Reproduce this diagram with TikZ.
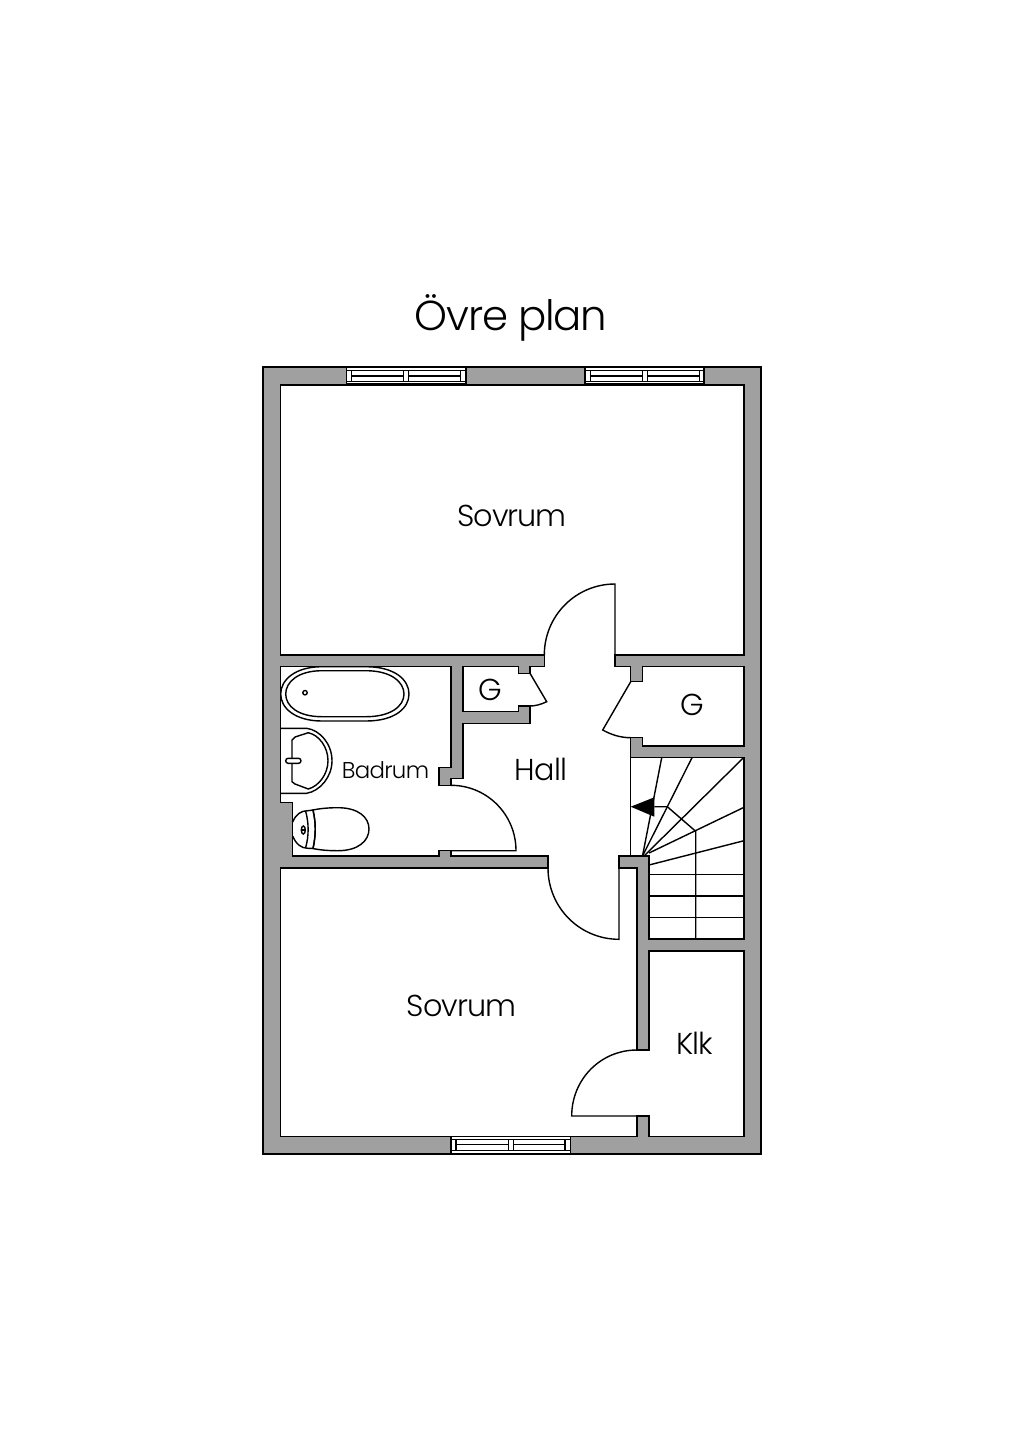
\documentclass[tikz,border=0pt]{standalone}
\usepackage{fontspec}
\setmainfont[LetterSpace=-3]{Poppins Light}
\definecolor{planwall}{HTML}{A0A0A0}
\tikzset{
  planline/.style={black,line width=0.4pt},
  roomlabel/.style={black,font=\fontsize{8.6pt}{11pt}\selectfont,inner sep=0pt},
}

\begin{document}
\begin{tikzpicture}[x=0.01cm,y=-0.01cm]
\useasboundingbox (0,0) rectangle (1024,1448);
\fill[white] (0,0) rectangle (1024,1448);
% walls and free floor
\draw[planline,fill=planwall] (263,367) rectangle (761,1154);
\draw[planline,fill=white] (280.7,385) -- (744,385) -- (744,655) -- (615,655) -- (615,666.7) -- (630.7,666.7) -- (630.7,681.7) -- (642.7,681.7) -- (642.7,666.7) -- (744,666.7) -- (744,746) -- (642.7,746) -- (642.7,737.7) -- (630.7,737.7) -- (630.7,757.7) -- (744,757.7) -- (744,939) -- (649,939) -- (649,856) -- (619,856) -- (619,868) -- (637,868) -- (637,1050) -- (649,1050) -- (649,951) -- (744,951) -- (744,1136.5) -- (649,1136.5) -- (649,1116) -- (637,1116) -- (637,1136.5) -- (280.7,1136.5) -- (280.7,868) -- (548,868) -- (548,856) -- (451,856) -- (451,850.7) -- (439,850.7) -- (439,856) -- (292.7,856) -- (292.7,802.7) -- (280.7,802.7) -- (280.7,666.7) -- (451,666.7) -- (451,767.3) -- (439,767.3) -- (439,785.3) -- (451,785.3) -- (451,778.7) -- (463,778.7) -- (463,723.3) -- (530,723.3) -- (530,706) -- (518.3,706) -- (518.3,711.3) -- (463,711.3) -- (463,666.7) -- (518.3,666.7) -- (518.3,673.3) -- (530,673.3) -- (530,666.7) -- (544.3,666.7) -- (544.3,655) -- (280.7,655) -- cycle;
% windows
\draw[planline,fill=white] (346.5,367.5) rectangle (466,384);
\draw[planline] (346.5,370.7) -- (466,370.7);
\draw[planline] (346.5,381.3) -- (466,381.3);
\draw[planline] (351.3,370.7) rectangle (403.3,381.3);
\draw[planline] (408.7,370.7) rectangle (460.7,381.3);
\draw[planline] (351.3,376) -- (403.3,376);
\draw[planline] (408.7,376) -- (460.7,376);
\draw[planline,fill=white] (585,367.5) rectangle (704,384);
\draw[planline] (585,370.7) -- (704,370.7);
\draw[planline] (585,381.3) -- (704,381.3);
\draw[planline] (590.3,370.7) rectangle (642.3,381.3);
\draw[planline] (647.7,370.7) rectangle (699.3,381.3);
\draw[planline] (590.3,376) -- (642.3,376);
\draw[planline] (647.7,376) -- (699.3,376);
\draw[planline,fill=white] (451,1136.5) rectangle (570.5,1153.5);
\draw[planline] (451,1139.3) -- (570.5,1139.3);
\draw[planline] (451,1150.3) -- (570.5,1150.3);
\draw[planline] (456,1139.3) rectangle (508.3,1150.3);
\draw[planline] (513.3,1139.3) rectangle (565,1150.3);
\draw[planline] (456,1144.7) -- (508.3,1144.7);
\draw[planline] (513.3,1144.7) -- (565,1144.7);
% doors
\draw[planline] (615,655) -- (615,584) .. controls (575.8,584) and (544.3,615.8) .. (544.3,655);
\draw[planline] (451,850.7) -- (516,850.7) .. controls (516,814.5) and (487,785.3) .. (451,785.3);
\draw[planline] (619,868) -- (619,939.3) .. controls (579.6,939.3) and (548,907.4) .. (548,868);
\draw[planline] (637,1116) -- (571.7,1116) .. controls (571.7,1079.5) and (600.4,1050) .. (637,1050);
\draw[planline] (530,673.3) -- (546.7,701.7) .. controls (541,704.5) and (535,706) .. (530,706);
\draw[planline] (630.7,681.7) -- (602.7,730) .. controls (611,734.5) and (620,737.7) .. (630.7,737.7);
% stairs
\draw[planline] (630.7,757.7) -- (630.7,856);
\draw[planline] (642.5,856) -- (661.7,757.7);
\draw[planline] (642.5,856) -- (692,757.7);
\draw[planline] (644,856) -- (743.5,757.7);
\draw[planline] (649,853) -- (744,807.3);
\draw[planline] (649,865) -- (744,840.7);
\draw[planline] (649,874.3) -- (744,874.3);
\draw[planline] (649,896) -- (744,896);
\draw[planline] (649,917.3) -- (744,917.3);
\draw[planline] (695.7,939) -- (695.7,831.3) -- (667.3,806.7) -- (654.3,806.7);
\fill[black] (630.7,806.7) -- (654.3,797.3) -- (654.3,816.7) -- cycle;
% bath
\draw[planline] (322,666.7) -- (366,666.7) .. controls (395,666.7) and (409,680) .. (409,694) .. controls (409,708) and (395,721) .. (366,721) -- (322,721) .. controls (295,721) and (280.7,708) .. (280.7,694) .. controls (280.7,680) and (295,666.7) .. (322,666.7) -- cycle;
\draw[planline] (322,670.7) -- (366,670.7) .. controls (391,670.7) and (404,682) .. (404,694) .. controls (404,706) and (391,716.7) .. (366,716.7) -- (322,716.7) .. controls (298,716.7) and (285.7,706) .. (285.7,694) .. controls (285.7,682) and (298,670.7) .. (322,670.7) -- cycle;
\draw[planline] (305,692.7) circle (2.2);
% basin
\draw[planline] (280.7,728.3) -- (306.7,728.3) .. controls (320,730) and (332,744) .. (332,760.7) .. controls (332,777) and (320,791) .. (306.7,793.3) -- (280.7,793.3);
\draw[planline] (292,740) -- (295,737) -- (308.3,732.7) .. controls (319,735) and (328,747) .. (328,760.7) .. controls (328,774) and (319,786) .. (308.3,789) -- (295,784) -- (292,781.7) -- cycle;
\draw[planline,fill=white,rounded corners=0.7pt] (285.7,758.3) rectangle (301,763.3);
% toilet
\draw[planline] (313,810) .. controls (322,808) and (332,807.7) .. (338,807.7) .. controls (358,807.7) and (369,817) .. (369,829) .. controls (369,841) and (358,850.7) .. (338,850.7) .. controls (332,850.7) and (322,850.5) .. (313,848.5) .. controls (316,835) and (316,823) .. (313,810) -- cycle;
\draw[planline] (292.7,822) .. controls (296,814) and (301,810.7) .. (308,810.7) -- (313,810) .. controls (316,823) and (316,835) .. (313,848.5) -- (308,848.3) .. controls (301,848.3) and (296,844) .. (292.7,836);
\draw[planline] (305.5,810.7) .. controls (309,823) and (309,836) .. (305.5,848.3);
\draw[planline] (303.3,830) ellipse (2 and 4);
\draw[planline] (301.3,830) -- (305.3,830);
% labels
\node[black,font=\fontsize{11.9pt}{15pt}\selectfont,inner sep=0pt] (titlelabel) at (511,318) {Övre plan};
\node[roomlabel] (sovrumtop) at (512,516) {Sovrum};
\node[roomlabel,font=\fontsize{6.5pt}{9pt}\selectfont] (badrum) at (385.5,770) {Badrum};
\node[roomlabel] (gleft) at (490,690) {G};
\node[roomlabel] (hall) at (541,769) {Hall};
\node[roomlabel] (gright) at (692,705) {G};
\node[roomlabel] (sovrumlow) at (461.5,1006) {Sovrum};
\node[roomlabel] (klk) at (694.5,1043) {Klk};
\end{tikzpicture}
\end{document}
